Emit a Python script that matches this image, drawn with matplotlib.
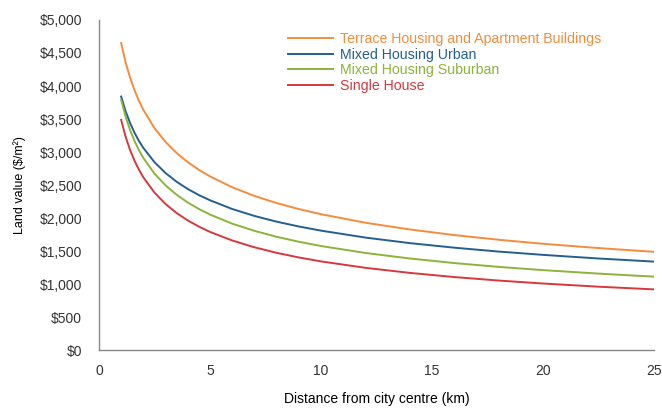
import matplotlib
matplotlib.use("Agg")
import matplotlib.pyplot as plt
from matplotlib.ticker import FuncFormatter

plt.rcParams['font.family'] = ['Liberation Sans', 'DejaVu Sans']

# distance from city centre (km) and land values ($/m2)
distance = [1, 1.2, 1.4, 1.6, 1.8, 2, 2.5, 3, 3.5, 4, 4.5, 5, 6, 7, 8, 9, 10,
            12, 14, 16, 18, 20, 22.5, 25]
terrace = [4650, 4359, 4128, 3937, 3776, 3638, 3362, 3152, 2984, 2847, 2730,
           2631, 2466, 2335, 2227, 2136, 2058, 1929, 1827, 1742, 1671, 1610,
           1545, 1488]
mixed_urban = [3840, 3618, 3440, 3293, 3168, 3061, 2846, 2681, 2549, 2440,
               2348, 2269, 2137, 2032, 1945, 1872, 1809, 1704, 1620, 1551,
               1492, 1442, 1387, 1340]
mixed_suburban = [3790, 3536, 3334, 3168, 3029, 2910, 2673, 2494, 2352, 2235,
                  2137, 2053, 1915, 1806, 1716, 1641, 1576, 1471, 1387, 1318,
                  1260, 1211, 1158, 1112]
single_house = [3485, 3232, 3032, 2869, 2732, 2616, 2385, 2212, 2075, 1963,
                1870, 1790, 1660, 1557, 1473, 1403, 1343, 1246, 1169, 1106,
                1053, 1008, 960, 919]

series = [
    ("Terrace Housing and Apartment Buildings", terrace, '#F58C3C'),
    ("Mixed Housing Urban", mixed_urban, '#245F92'),
    ("Mixed Housing Suburban", mixed_suburban, '#8DB33A'),
    ("Single House", single_house, '#D6383E'),
]

fig = plt.figure(figsize=(6.62, 4.08), dpi=100)
ax = fig.add_axes([0.1495, 0.142, 0.8385, 0.809])

for name, vals, col in series:
    ax.plot(distance, vals, color=col, lw=1.4, label=name)

ax.set_xlim(0, 25)
ax.set_ylim(0, 5000)
ax.set_xticks([0, 5, 10, 15, 20, 25])
ax.set_yticks(range(0, 5001, 500))
ax.yaxis.set_major_formatter(FuncFormatter(lambda v, p: "${:,.0f}".format(v)))
ax.tick_params(length=0, labelsize=10, colors='#333333')
ax.tick_params(axis='y', pad=12)
ax.tick_params(axis='x', pad=10)

for s in ['top', 'right']:
    ax.spines[s].set_visible(False)
for s in ['left', 'bottom']:
    ax.spines[s].set_color('#888888')
    ax.spines[s].set_linewidth(1.0)

ax.set_xlabel("Distance from city centre (km)", fontsize=10, labelpad=10)
ax.set_ylabel("Land value (\\$/m\u00b2)", fontsize=9, labelpad=10)

leg = ax.legend(loc='upper left', bbox_to_anchor=(0.33, 0.98), frameon=False,
                fontsize=10.2, handlelength=3.2, handletextpad=0.5,
                labelspacing=0.1, borderaxespad=0)
for txt, (name, vals, col) in zip(leg.get_texts(), series):
    txt.set_color(col)

fig.savefig("out.png", dpi=100)
